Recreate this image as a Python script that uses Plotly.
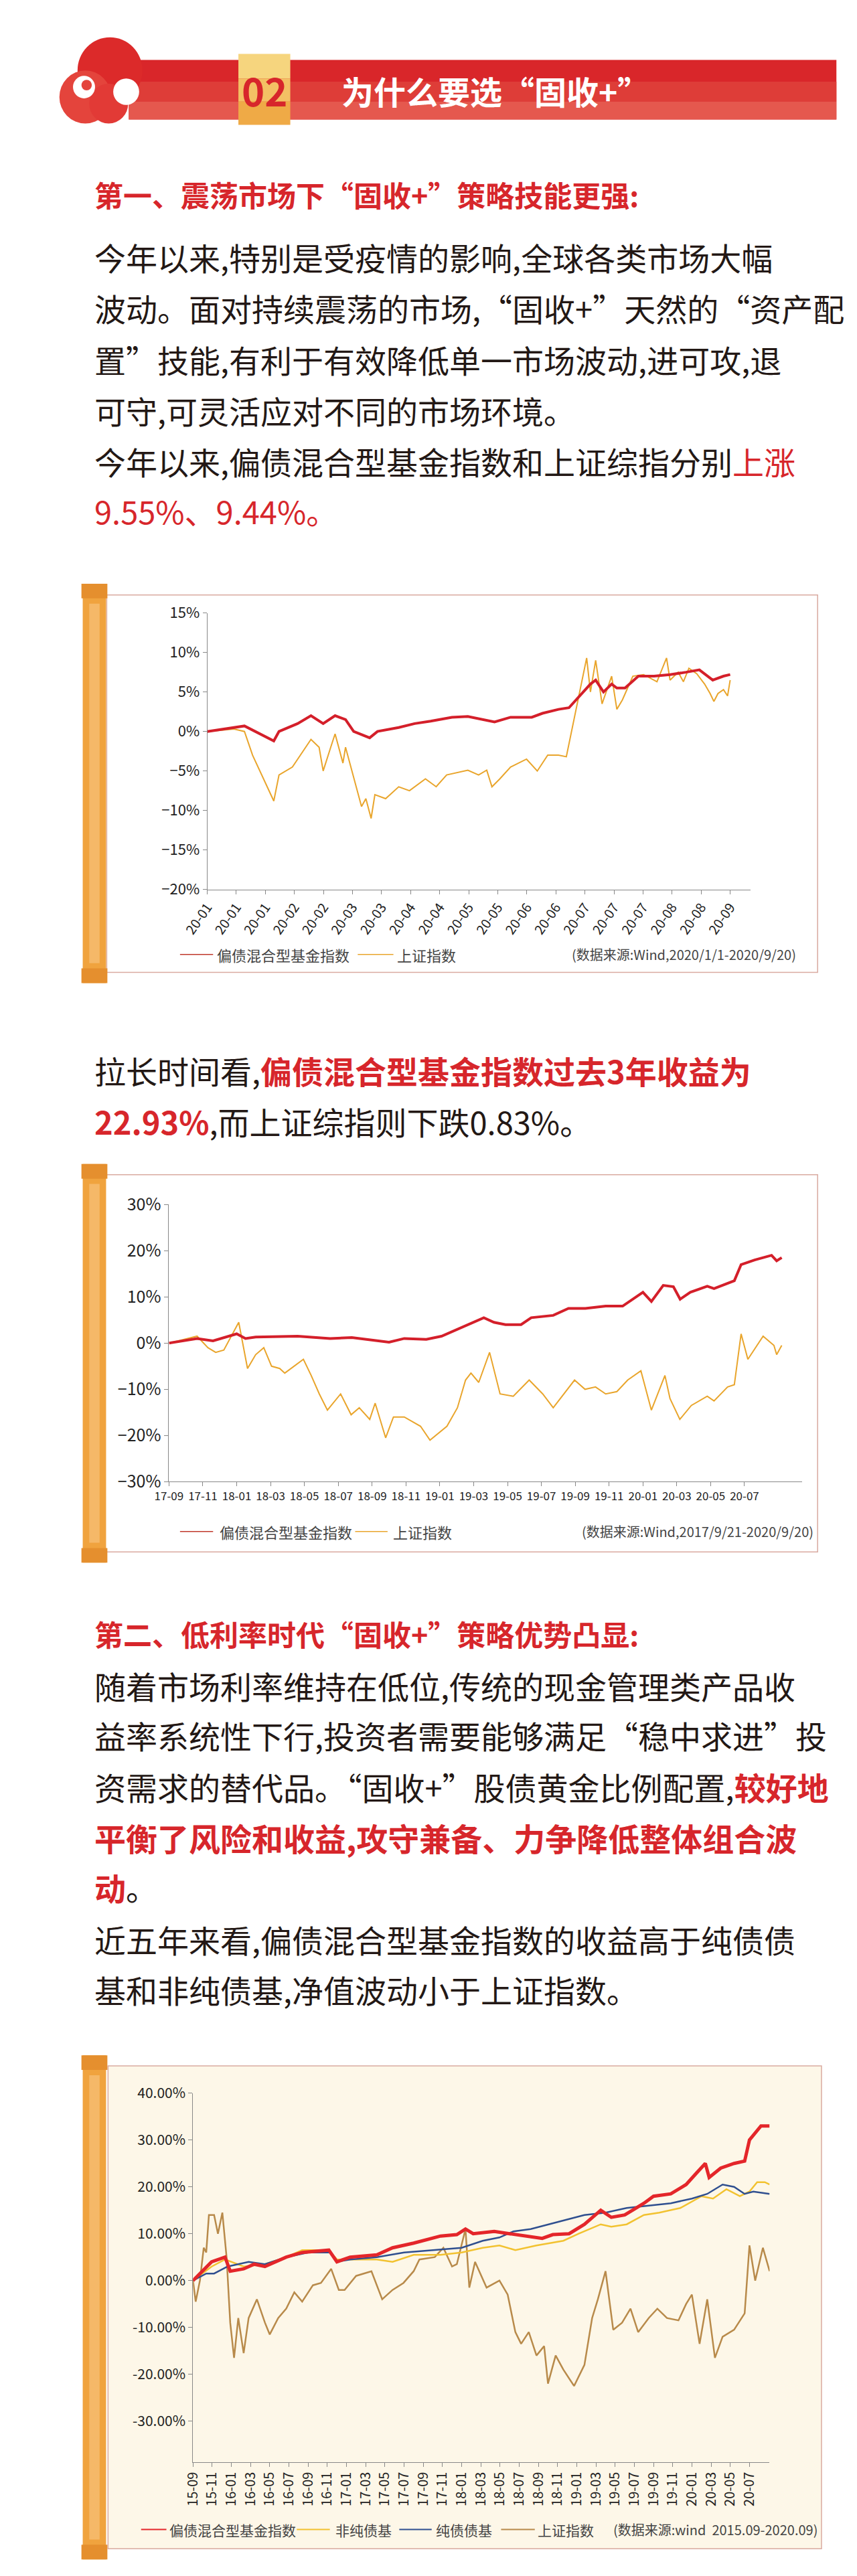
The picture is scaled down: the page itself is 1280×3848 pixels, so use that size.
import plotly.graph_objects as go

W, H = 1280, 3848
FONT = "Noto Sans CJK SC"
RED = "#d7262b"

# ---------------- chart 1 data (x in tick units, y in %) ----------------
c1_ticks = ["20-01", "20-01", "20-01", "20-02", "20-02", "20-03", "20-03", "20-04", "20-04",
            "20-05", "20-05", "20-06", "20-06", "20-07", "20-07", "20-07", "20-08", "20-08", "20-09"]
c1_red_x = [0, 1.03, 1.28, 2.29, 2.47, 3.11, 3.57, 3.99, 4.40, 4.76, 5.04, 5.59, 5.86, 6.59, 7.14,
            7.69, 8.42, 8.97, 9.52, 9.89, 10.44, 11.17, 11.54, 12.09, 12.45, 12.82, 13.19, 13.37,
            13.64, 13.92, 14.10, 14.38, 14.84, 15.38, 15.93, 16.48, 16.94, 17.40, 17.77, 18.0]
c1_red_y = [0, 0.5, 0.7, -1.2, 0, 1, 2, 1, 2, 1.5, 0, -0.8, 0, 0.5, 1, 1.3, 1.8, 1.9, 1.5, 1.2,
            1.8, 1.8, 2.3, 2.8, 3, 4.5, 6, 6.5, 5, 6, 5.5, 5.5, 7, 7, 7.2, 7.5, 7.8, 6.5, 7, 7.2]
c1_sse_x = [0, 0.92, 1.28, 1.56, 2.29, 2.47, 2.93, 3.30, 3.57, 3.85, 3.99, 4.25, 4.40, 4.67, 4.76,
            5.31, 5.46, 5.64, 5.77, 6.14, 6.59, 6.96, 7.51, 7.88, 8.24, 8.97, 9.34, 9.62, 9.80,
            10.07, 10.44, 10.99, 11.36, 11.72, 12.09, 12.36, 12.82, 13.06, 13.19, 13.37, 13.59,
            13.92, 14.10, 14.29, 14.65, 15.02, 15.48, 15.81, 15.93, 16.21, 16.39, 16.58, 16.85,
            17.12, 17.31, 17.44, 17.58, 17.77, 17.91, 18.0]
c1_sse_y = [0, 0.3, 0, -3, -8.8, -5.5, -4.5, -2.5, -1, -2, -5, -2, -0.3, -4, -2, -9.5, -8.5, -11,
            -8, -8.5, -7, -7.5, -6, -7, -5.5, -4.9, -5.5, -4.9, -7, -6, -4.5, -3.5, -5, -3, -3,
            -3.2, 5, 9.3, 5, 9, 3.5, 7, 2.8, 4, 7, 7.2, 6.3, 9.3, 6.5, 7.5, 6.3, 8, 7.3, 6, 4.8,
            3.8, 4.8, 5.3, 4.5, 6.5]

# ---------------- chart 2 data ----------------
c2_ticks = ["17-09", "17-11", "18-01", "18-03", "18-05", "18-07", "18-09", "18-11", "19-01",
            "19-03", "19-05", "19-07", "19-09", "19-11", "20-01", "20-03", "20-05", "20-07"]
c2_red_x = [0, 0.83, 1.3, 2.0, 2.26, 2.56, 3.8, 4.76, 5.4, 6.5, 6.95, 7.6, 8.05, 8.52, 9.3, 9.6,
            9.94, 10.4, 10.7, 11.35, 11.8, 12.3, 12.9, 13.4, 14.0, 14.25, 14.6, 14.9, 15.1, 15.4,
            15.9, 16.1, 16.5, 16.7, 16.9, 17.3, 17.8, 17.95, 18.1]
c2_red_y = [0, 1, 0.5, 2, 1, 1.3, 1.5, 1, 1.2, 0.2, 1, 0.8, 1.5, 3, 5.5, 4.5, 4, 4, 5.5, 6, 7.5,
            7.5, 8, 8, 11, 9, 12.5, 12.2, 9.5, 11, 12.3, 11.8, 13, 13.5, 17, 18, 19, 17.8, 18.5]
c2_sse_x = [0, 0.83, 1.15, 1.38, 1.62, 2.06, 2.32, 2.56, 2.8, 3.03, 3.27, 3.42, 3.97, 4.2, 4.44,
            4.68, 5.07, 5.38, 5.62, 5.93, 6.09, 6.40, 6.63, 6.95, 7.43, 7.71, 8.21, 8.52, 8.76,
            8.92, 9.15, 9.47, 9.78, 10.17, 10.64, 11.04, 11.35, 11.66, 11.98, 12.29, 12.6, 12.9,
            13.23, 13.55, 13.94, 14.25, 14.65, 14.8, 15.09, 15.43, 15.9, 16.1, 16.5, 16.7, 16.9,
            17.1, 17.55, 17.87, 17.95, 18.1]
c2_sse_y = [0, 1.5, -1, -2, -1.5, 4.5, -5.5, -2.5, -1, -5, -5.5, -6.5, -3.5, -7, -11, -14.5, -11,
            -15.5, -14, -16.5, -13, -20.5, -16, -16, -18, -21, -18, -14, -8, -6.5, -8.5, -2, -11,
            -11.5, -8, -11, -14, -11, -8, -10, -9.5, -11, -10.5, -8, -6, -14.5, -7, -12, -16.5,
            -13.5, -11.5, -12.5, -9.5, -9, 2, -3.5, 1.5, -0.5, -2.5, -0.5]

# ---------------- chart 3 data ----------------
c3_ticks = ["15-09", "15-11", "16-01", "16-03", "16-05", "16-07", "16-09", "16-11", "17-01",
            "17-03", "17-05", "17-07", "17-09", "17-11", "18-01", "18-03", "18-05", "18-07",
            "18-09", "18-11", "19-01", "19-03", "19-05", "19-07", "19-09", "19-11", "20-01",
            "20-03", "20-05", "20-07"]
c3_yticks = [-30, -20, -10, 0, 10, 20, 30, 40]
c3_red_x = [0, 0.97, 1.67, 1.94, 2.64, 3.19, 3.75, 4.86, 5.69, 7.08, 7.5, 8.19, 9.58, 10.4, 11.5,
            12.9, 13.75, 14.2, 14.6, 15.7, 16.5, 17.4, 18.2, 18.75, 19.6, 20.4, 21.25, 21.8, 22.5,
            23.5, 24.0, 24.9, 25.7, 26.25, 26.7, 26.9, 27.5, 28.2, 28.75, 29.0, 29.6, 30.05]
c3_red_y = [0, 4, 5, 2, 2.5, 3.5, 3, 5, 6, 6.5, 4, 5, 5.5, 7, 8, 9.5, 9.8, 11, 10, 10.5, 10, 9.5,
            9, 9.8, 10, 12, 15, 13.5, 14, 16.5, 18, 18.5, 20.5, 23, 25, 22, 24, 25, 25.5, 30, 33, 33]
c3_mix_x = [0, 0.97, 1.67, 2.64, 3.75, 4.86, 5.69, 7.08, 7.5, 8.19, 9.58, 10.4, 11.5, 12.9, 14.0,
            15.1, 15.97, 16.8, 17.9, 19.3, 20.1, 21.25, 21.8, 22.6, 23.5, 24.3, 25.4, 26.5, 27.1,
            27.8, 28.5, 29.0, 29.4, 29.8, 30.05]
c3_mix_y = [0, 3, 4.5, 3, 3.5, 5, 6.5, 6.5, 4.5, 4.5, 4.5, 4, 5.5, 5.5, 6, 7, 7.5, 6.5, 7.5, 8.5,
            10, 12, 11.5, 12, 14, 14.5, 15.5, 18, 17.5, 19.5, 18, 19, 21, 21, 20.5]
c3_bond_x = [0, 0.69, 1.1, 1.8, 2.9, 3.75, 4.86, 6.0, 7.2, 7.5, 8.19, 9.58, 11.0, 12.6, 14.0, 15.1,
             15.97, 16.7, 17.6, 19.0, 20.4, 21.5, 22.6, 23.75, 24.9, 26.0, 26.8, 27.6, 28.2,
             28.75, 29.2, 30.05]
c3_bond_y = [0, 1.5, 1.5, 3, 4, 3.5, 5, 6, 6, 4, 4.5, 5, 6, 6.5, 7, 8.5, 9.2, 10.5, 11, 12.5, 14,
             14.5, 15.5, 16, 16.5, 17.5, 18.5, 20.5, 20, 18.5, 19, 18.5]
c3_sse_x = [0, 0.14, 0.36, 0.56, 0.69, 0.83, 1.1, 1.3, 1.53, 1.75, 1.94, 2.14, 2.36, 2.64, 2.9,
            3.33, 3.75, 4.0, 4.44, 4.86, 5.28, 5.69, 6.25, 6.67, 7.2, 7.6, 7.9, 8.5, 9.3, 9.86,
            10.4, 10.97, 11.5, 11.8, 12.6, 13.05, 13.5, 13.75, 14.2, 14.4, 14.7, 15.3, 15.97, 16.4,
            16.8, 17.1, 17.5, 17.9, 18.3, 18.5, 18.9, 19.3, 19.86, 20.4, 20.8, 21.1, 21.5, 21.9,
            22.36, 22.8, 23.2, 23.75, 24.2, 24.7, 25.3, 25.7, 26.0, 26.4, 26.8, 27.2, 27.6, 28.2,
            28.75, 29.0, 29.3, 29.7, 30.05]
c3_sse_y = [0, -4.5, 0, 7, 6, 14, 14, 10, 14.5, 5, -9, -16.5, -8, -15.5, -8, -4, -9, -11.5, -8,
            -6, -2.5, -4.5, -1, -0.5, 2.5, -2, -2, 1, 2, -4, -2, -0.5, 2, 4.5, 5, 7, 3, 3.5, 11,
            -1.5, 4, -1.5, 0, -3, -11, -13.5, -11, -16, -14, -22, -16, -19, -22.5, -18, -8, -4, 2,
            -10.5, -9, -6, -11, -8, -6, -8, -8.5, -5, -3, -13.5, -4, -16.5, -12, -10.5, -7, 7.5,
            0, 7, 2]


def px_x(p):
    return p / W


def px_y(p):
    return 1 - p / H


fig = go.Figure()
shapes = []
ann = []


def text(x, y, s, size=47, color="#231815", anchor="left"):
    ann.append(dict(x=px_x(x), y=px_y(y), xref="paper", yref="paper", text=s, showarrow=False,
                    xanchor=anchor, yanchor="middle",
                    font=dict(family=FONT, size=size, color=color)))


def rect(x0, y0, x1, y1, fill, line=None, lw=0):
    shapes.append(dict(type="rect", xref="paper", yref="paper", x0=px_x(x0), x1=px_x(x1),
                       y0=px_y(y1), y1=px_y(y0), fillcolor=fill, layer="below",
                       line=dict(color=line or fill, width=lw)))


def circle(cx, cy, r, col):
    shapes.append(dict(type="circle", xref="paper", yref="paper", x0=px_x(cx - r), x1=px_x(cx + r),
                       y0=px_y(cy + r), y1=px_y(cy - r), fillcolor=col, line=dict(width=0),
                       layer="below"))


def hline(x0, x1, y, color, w=2):
    shapes.append(dict(type="line", xref="paper", yref="paper", x0=px_x(x0), x1=px_x(x1),
                       y0=px_y(y), y1=px_y(y), line=dict(color=color, width=w)))


def scroll(y0, y1):
    rect(78, y0, 114, y1, "#f0a33e")
    rect(88, y0 + 30, 104, y1 - 30, "#f5b868")
    rect(76, y0, 116, y0 + 22, "#e58f2e")
    rect(76, y1 - 22, 116, y1, "#e58f2e")


# ---------------- header ----------------
rect(149, 62, 1240, 152, "#d9262a")
rect(149, 95, 1240, 125, "#de3d38")
rect(149, 125, 1240, 152, "#e5584e")
circle(120, 78, 50, "#dc2a2a")
circle(82, 118, 40, "#e4443c")
circle(118, 128, 30, "#e23a36")
circle(145, 110, 20, "white")
circle(80, 103, 17, "white")
circle(84, 100, 8, "#e4443c")
rect(318, 53, 398, 90, "#f6d57e")
rect(318, 90, 398, 125, "#f3c064")
rect(318, 125, 398, 160, "#efaa46")
text(358, 107, "<b>02</b>", size=58, color="#d7262b", anchor="center")
text(475, 108, "<b>为什么要选“固收+”</b>", size=48, color="white")

# ---------------- section 1 text ----------------
text(94, 264, "<b>第一、震荡市场下“固收+”策略技能更强:</b>", size=43, color=RED)
body1 = ["今年以来,特别是受疫情的影响,全球各类市场大幅",
         "波动。面对持续震荡的市场,“固收+”天然的“资产配",
         "置”技能,有利于有效降低单一市场波动,进可攻,退",
         "可守,可灵活应对不同的市场环境。",
         f"今年以来,偏债混合型基金指数和上证综指分别<span style='color:{RED}'>上涨</span>"]
for i, s in enumerate(body1):
    text(94, 359 + 77 * i, s)
text(94, 741, "9.55%、9.44%。", color=RED)

# ---------------- chart frames ----------------
rect(115, 869, 1211, 1438, "white", "#d9aaa0", 1.5)
scroll(852, 1454)
text(94, 1585, f"拉长时间看,<b><span style='color:{RED}'>偏债混合型基金指数过去3年收益为</span></b>")
text(94, 1662, f"<b><span style='color:{RED}'>22.93%</span></b>,而上证综指则下跌0.83%。")
rect(112, 1743, 1211, 2312, "white", "#d9aaa0", 1.5)
scroll(1727, 2328)

text(94, 2435, "<b>第二、低利率时代“固收+”策略优势凸显:</b>", size=43, color=RED)
body2 = ["随着市场利率维持在低位,传统的现金管理类产品收",
         "益率系统性下行,投资者需要能够满足“稳中求进”投",
         f"资需求的替代品。“固收+”股债黄金比例配置,<b><span style='color:{RED}'>较好地</span></b>",
         f"<b><span style='color:{RED}'>平衡了风险和收益,攻守兼备、力争降低整体组合波</span></b>",
         f"<b><span style='color:{RED}'>动</span></b>。",
         "近五年来看,偏债混合型基金指数的收益高于纯债债",
         "基和非纯债基,净值波动小于上证指数。"]
for s, y in zip(body2, [2513, 2588, 2665, 2742, 2817, 2896, 2971]):
    text(94, y, s)

rect(117, 3087, 1217, 3815, "#fdf7e8", "#d9aaa0", 1.5)
scroll(3071, 3831)

# ---------------- traces ----------------
fig.add_trace(go.Scatter(x=c1_sse_x, y=c1_sse_y, mode="lines", line=dict(color="#e9a52c", width=2),
                         xaxis="x", yaxis="y"))
fig.add_trace(go.Scatter(x=c1_red_x, y=c1_red_y, mode="lines", line=dict(color="#d41f2a", width=4),
                         xaxis="x", yaxis="y"))
fig.add_trace(go.Scatter(x=c2_sse_x, y=c2_sse_y, mode="lines", line=dict(color="#e9a52c", width=2),
                         xaxis="x2", yaxis="y2"))
fig.add_trace(go.Scatter(x=c2_red_x, y=c2_red_y, mode="lines", line=dict(color="#d41f2a", width=4),
                         xaxis="x2", yaxis="y2"))
fig.add_trace(go.Scatter(x=c3_sse_x, y=c3_sse_y, mode="lines", line=dict(color="#b88a4a", width=2.5),
                         xaxis="x3", yaxis="y3"))
fig.add_trace(go.Scatter(x=c3_mix_x, y=c3_mix_y, mode="lines", line=dict(color="#f2c230", width=2.5),
                         xaxis="x3", yaxis="y3"))
fig.add_trace(go.Scatter(x=c3_bond_x, y=c3_bond_y, mode="lines", line=dict(color="#2f4f8f", width=2.5),
                         xaxis="x3", yaxis="y3"))
fig.add_trace(go.Scatter(x=c3_red_x, y=c3_red_y, mode="lines", line=dict(color="#e4262a", width=5),
                         xaxis="x3", yaxis="y3"))

axis_common = dict(showgrid=False, zeroline=False, showline=True, linecolor="#888", linewidth=1,
                   ticks="outside", tickcolor="#888", ticklen=6)
fig.update_layout(
    xaxis=dict(axis_common, domain=[px_x(270), px_x(1108)], range=[0, 18.71],
               tickvals=list(range(len(c1_ticks))), ticktext=c1_ticks, tickangle=-55,
               tickfont=dict(family=FONT, size=20, color="#222"), anchor="y"),
    yaxis=dict(axis_common, domain=[px_y(1313), px_y(896)], range=[-20, 15], dtick=5,
               ticksuffix="%", tickfont=dict(family=FONT, size=22, color="#222"), anchor="x"),
    xaxis2=dict(axis_common, domain=[px_x(211), px_x(1187)], range=[0, 18.7],
                tickvals=list(range(len(c2_ticks))), ticktext=c2_ticks, tickangle=0,
                tickfont=dict(family=FONT, size=17, color="#222"), anchor="y2"),
    yaxis2=dict(axis_common, domain=[px_y(2206), px_y(1788)], range=[-30, 30], dtick=10,
                ticksuffix="%", tickfont=dict(family=FONT, size=25, color="#222"), anchor="x2"),
    xaxis3=dict(axis_common, domain=[px_x(248), px_x(1137)], range=[0, 30.05],
                tickvals=list(range(len(c3_ticks))), ticktext=c3_ticks, tickangle=-90,
                tickfont=dict(family=FONT, size=20, color="#222"), anchor="y3"),
    yaxis3=dict(axis_common, domain=[px_y(3684), px_y(3128)], range=[-38.7, 40],
                tickvals=c3_yticks, ticktext=[f"{v:.2f}%" for v in c3_yticks],
                tickfont=dict(family=FONT, size=21, color="#222"), anchor="x3"),
)

# ---------------- legends ----------------
lg = "#444"
hline(228, 279, 1411, "#c0392b", 1.5)
text(283, 1411, "偏债混合型基金指数", size=22, color=lg)
hline(502, 557, 1411, "#e9a52c", 1.5)
text(561, 1411, "上证指数", size=22, color=lg)
text(1180, 1411, "(数据来源:Wind,2020/1/1-2020/9/20)", size=20, color=lg, anchor="right")

hline(228, 279, 2281, "#c0392b", 1.5)
text(287, 2281, "偏债混合型基金指数", size=22, color=lg)
hline(498, 548, 2281, "#e9a52c", 1.5)
text(554, 2281, "上证指数", size=22, color=lg)
text(1207, 2281, "(数据来源:Wind,2017/9/21-2020/9/20)", size=20, color=lg, anchor="right")

for x0, x1, col, tx, lab in [(168, 207, "#e4262a", 210, "偏债混合型基金指数"),
                             (408, 459, "#f2c230", 466, "非纯债基"),
                             (566, 616, "#2f4f8f", 620, "纯债债基"),
                             (723, 775, "#b88a4a", 777, "上证指数")]:
    hline(x0, x1, 3786, col, 2)
    text(tx, 3786, lab, size=21, color=lg)
text(1213, 3786, "(数据来源:wind  2015.09-2020.09)", size=20, color=lg, anchor="right")

fig.update_layout(width=W, height=H, margin=dict(l=0, r=0, t=0, b=0), showlegend=False,
                  paper_bgcolor="white", plot_bgcolor="rgba(0,0,0,0)",
                  shapes=shapes, annotations=ann, font=dict(family=FONT))
fig.write_html("out.html")
